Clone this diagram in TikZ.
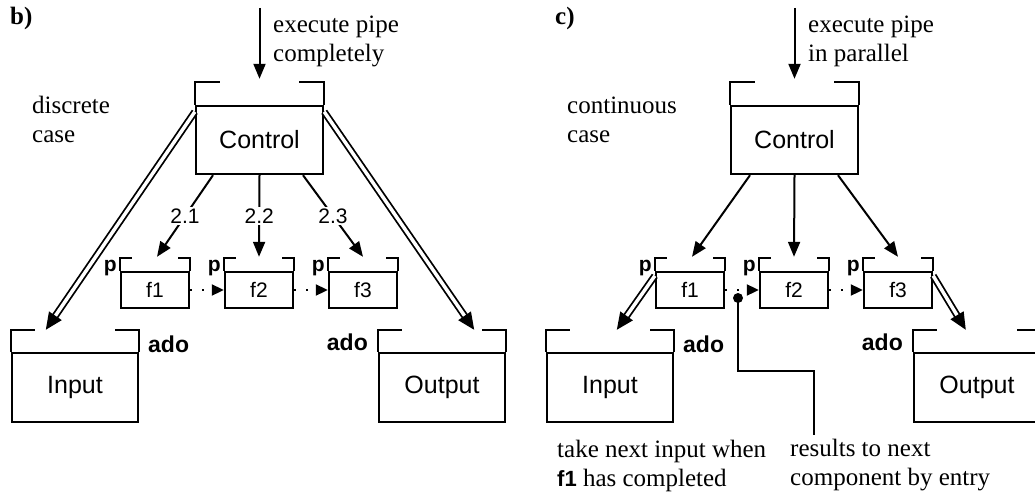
\documentclass[tikz,border=0pt]{standalone}
\usepackage{fontspec}
\setmainfont{Liberation Serif}
\setsansfont{Liberation Sans}
\usetikzlibrary{arrows.meta,calc}

\tikzset{
  boxline/.style={line width=2.4pt},
  body/.style={draw, rectangle, line width=2.4pt, inner sep=0pt,
    font=\sffamily\fontsize{25}{30}\selectfont},
  bigbody/.style={body, minimum width=126pt, minimum height=68pt},
  fbody/.style={body, minimum width=68pt, minimum height=36pt,
    font=\sffamily\fontsize{21}{24}\selectfont},
  arr/.style={line width=2pt, -{Triangle[length=15pt,width=12pt]}},
  dbl/.style={double, double distance=3.5pt, line width=1.8pt,
    -{Triangle[length=17pt,width=15pt]}},
  dots/.style={line width=2pt, dash pattern=on 2pt off 10pt,
    -{Triangle[length=12pt,width=11pt]}},
  wire/.style={line width=2pt},
  % two-line notes are placed by the baseline of their last line
  note/.style={font=\fontsize{25}{29}\selectfont, align=left, inner sep=0pt},
  tag/.style={font=\sffamily\bfseries\fontsize{23}{26}\selectfont, inner sep=0pt},
  ptag/.style={font=\sffamily\bfseries\fontsize{21}{24}\selectfont, inner sep=0pt},
  num/.style={font=\sffamily\fontsize{21}{24}\selectfont, fill=white, inner sep=1.5pt},
  panel/.style={font=\bfseries\fontsize{25}{29}\selectfont, inner sep=0pt},
}

% open header on top of a body node: #1 node, #2 header height, #3 tab length
\newcommand\boxhead[3]{%
  \draw[boxline] ($(#1.north west)+(#3,-#2)$) -- ($(#1.north west)+(0,-#2)$) -- (#1.north west);
  \draw[boxline] ($(#1.north east)+(-#3,-#2)$) -- ($(#1.north east)+(0,-#2)$) -- (#1.north east);
}

\begin{document}
\begin{tikzpicture}[x=1pt,y=-1pt]
\useasboundingbox (0,0) rectangle (1035,495);
\clip (0,0) rectangle (1035,495);

% ---------------- panel b: discrete case ----------------
\node[panel, anchor=base west] (lblB) at (10,25) {b)};
\node[note, anchor=base west] (caseB) at (32,142) {discrete\\case};
\node[note, anchor=base west] (cmdB) at (273,62) {execute pipe\\completely};

\node[bigbody, minimum width=127pt] (ctrlB) at (259.5,140) {Control};
\boxhead{ctrlB}{23}{25}
\node[bigbody, minimum height=69pt] (inB) at (75,387.5) {Input};
\boxhead{inB}{22}{24}
\node[bigbody, minimum height=69pt] (outB) at (442,387.5) {Output};
\boxhead{outB}{22}{24}

\node[fbody] (f1b) at (155,290) {f1};
\node[fbody] (f2b) at (259,290) {f2};
\node[fbody] (f3b) at (363,290) {f3};
\foreach \f in {f1b,f2b,f3b}{
  \boxhead{\f}{13}{12}
  \node[ptag, anchor=base east] (p\f) at ($(\f.north west)+(-3,1)$) {p};
}

\node[tag, anchor=base west] (adoInB) at (148,352) {ado};
\node[tag, anchor=base east] (adoOutB) at (368,350) {ado};

\coordinate (srcB) at (259.5,8);
\draw[arr] (srcB) -- ($(ctrlB.north)+(0,-26)$);

\draw[arr] ($(ctrlB.south)+(-46.5,0)$) -- node[num] {2.1} ($(f1b.north)+(2,-14)$);
\draw[arr] (ctrlB.south) -- node[num] {2.2} ($(f2b.north)+(0,-14)$);
\draw[arr] ($(ctrlB.south)+(43.5,0)$) -- node[num] {2.3} ($(f3b.north)+(0,-14)$);

\draw[dots] (f1b.east) -- (f2b.west);
\draw[dots] (f2b.east) -- (f3b.west);

\draw[dbl] ($(ctrlB.north west)+(0,7)$) -- ($(inB.north west)+(35,-22)$);
\draw[dbl] ($(ctrlB.north east)+(0,7)$) -- ($(outB.north east)+(-32,-22)$);

% ---------------- panel c: continuous case ----------------
\node[panel, anchor=base west] (lblC) at (555,25) {c)};
\node[note, anchor=base west] (caseC) at (567,142) {continuous\\case};
\node[note, anchor=base west] (cmdC) at (808,62) {execute pipe\\in parallel};

\node[bigbody, minimum width=127pt] (ctrlC) at (794.5,140) {Control};
\boxhead{ctrlC}{23}{25}
\node[bigbody, minimum height=69pt] (inC) at (610,387.5) {Input};
\boxhead{inC}{22}{24}
\node[bigbody, minimum height=69pt] (outC) at (977,387.5) {Output};
\boxhead{outC}{22}{24}

\node[fbody] (f1c) at (690,290) {f1};
\node[fbody] (f2c) at (794,290) {f2};
\node[fbody] (f3c) at (898,290) {f3};
\foreach \f in {f1c,f2c,f3c}{
  \boxhead{\f}{13}{12}
  \node[ptag, anchor=base east] (p\f) at ($(\f.north west)+(-3,1)$) {p};
}

\node[tag, anchor=base west] (adoInC) at (683,352) {ado};
\node[tag, anchor=base east] (adoOutC) at (903,350) {ado};

\coordinate (srcC) at (794.5,8);
\draw[arr] (srcC) -- ($(ctrlC.north)+(0,-26)$);

\draw[arr] ($(ctrlC.south)+(-44.5,0)$) -- ($(f1c.north)+(2,-14)$);
\draw[arr] (ctrlC.south) -- ($(f2c.north)+(0,-14)$);
\draw[arr] ($(ctrlC.south)+(43.5,0)$) -- ($(f3c.north)+(0,-14)$);

\draw[dots] (f1c.east) -- (f2c.west);
\draw[dots] (f2c.east) -- (f3c.west);

\draw[dbl] ($(f1c.north west)+(0,5)$) -- ($(inC.north west)+(71,-22)$);
\draw[dbl] ($(f3c.north east)+(0,5)$) -- ($(outC.north west)+(53,-22)$);

% entry point between f1 and f2, with its note
\coordinate (dotC) at (738,298);
\coordinate (resEnd) at (814,435);
\fill (dotC) circle (5pt);
\draw[wire] (dotC) -- ++(0,73) -| (resEnd);

\node[note, anchor=base west] (takeC) at (557,486)
  {take next input when\\{\sffamily\bfseries\fontsize{22}{29}\selectfont f1} has completed};
\node[note, anchor=base west] (resC) at (790,485) {results to next\\component by entry};
\end{tikzpicture}
\end{document}
